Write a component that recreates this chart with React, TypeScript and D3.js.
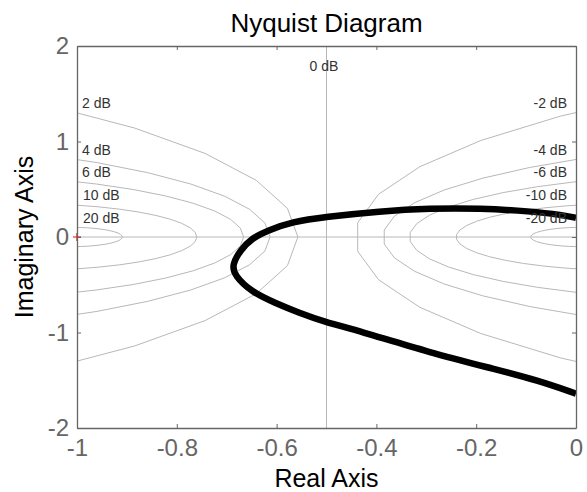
import React, { useEffect, useRef } from 'react';
import * as d3 from 'd3';

// Nyquist curve (real, imaginary)
const nyqRe = [0, -0.026, -0.092, -0.192, -0.293, -0.393, -0.503, -0.569, -0.617, -0.649, -0.673, -0.689, -0.685, -0.649, -0.603, -0.557, -0.503, -0.437, -0.293, -0.158, -0.078, 0];
const nyqIm = [0.2, 0.23, 0.27, 0.3, 0.3, 0.27, 0.21, 0.16, 0.07, -0.01, -0.14, -0.29, -0.4, -0.58, -0.69, -0.79, -0.89, -0.98, -1.21, -1.39, -1.5, -1.64];

// M-circle levels (closed loop gain, dB)
const posLevels = [2, 4, 6, 10, 20];
const negLevels = [-2, -4, -6, -10, -20];
// label heights on the imaginary axis, same order as the levels
const labelIm = [1.35, 0.86, 0.63, 0.39, 0.15];

const xTicks = [-1, -0.8, -0.6, -0.4, -0.2, 0];
const yTicks = [-2, -1, 0, 1, 2];

const W = 587;
const H = 492;
const FONT = 'Liberation Sans, Arial, sans-serif';

function App() {
    const ref = useRef<SVGSVGElement>(null);

    useEffect(() => {
        const margin = { top: 46, right: 11, bottom: 64, left: 77 },
            width = W - margin.left - margin.right,
            height = H - margin.top - margin.bottom;

        const root = d3.select(ref.current);
        root.selectAll('*').remove();

        const svg = root.append('g')
            .attr('transform', 'translate(' + margin.left + ',' + margin.top + ')');

        const x = d3.scaleLinear().domain([-1, 0]).range([0, width]);
        const y = d3.scaleLinear().domain([-2, 2]).range([height, 0]);

        svg.append('clipPath').attr('id', 'plotclip')
            .append('rect').attr('width', width).attr('height', height);

        const plot = svg.append('g').attr('clip-path', 'url(#plotclip)');
        const gridColor = '#b8b8b8';

        // M-circles: centre -M^2/(M^2-1), radius |M/(M^2-1)|
        const circle = (db: number) => {
            const m = Math.pow(10, db / 20);
            const c = -m * m / (m * m - 1);
            const r = Math.abs(m / (m * m - 1));
            return d3.range(0, 361, 8).map(a => {
                const t = a * Math.PI / 180;
                return [c + r * Math.cos(t), r * Math.sin(t)];
            });
        };
        const line = d3.line<number[]>().x(d => x(d[0])).y(d => y(d[1]));

        plot.selectAll('path.mcirc')
            .data(posLevels.concat(negLevels))
            .enter()
            .append('path')
            .attr('class', 'mcirc')
            .attr('d', d => line(circle(d)))
            .attr('fill', 'none')
            .attr('stroke', gridColor)
            .attr('stroke-width', 1);

        // 0 dB line and real axis
        plot.append('line')
            .attr('x1', x(-0.5)).attr('x2', x(-0.5))
            .attr('y1', 0).attr('y2', height)
            .attr('stroke', gridColor);
        plot.append('line')
            .attr('x1', 0).attr('x2', width)
            .attr('y1', y(0)).attr('y2', y(0))
            .attr('stroke', gridColor);

        // nyquist curve
        const pts = nyqRe.map((re, i) => [re, nyqIm[i]]);
        plot.append('path')
            .datum(pts)
            .attr('fill', 'none')
            .attr('stroke', '#000')
            .attr('stroke-width', 6.5)
            .attr('stroke-linejoin', 'round')
            .attr('d', d3.line<number[]>()
                .x(d => x(d[0]))
                .y(d => y(d[1]))
                .curve(d3.curveBasis));

        // dB labels
        const label = (tx: number, ty: number, s: string, anchor: string) => {
            svg.append('text')
                .attr('x', tx)
                .attr('y', ty)
                .attr('text-anchor', anchor)
                .attr('font-family', FONT)
                .attr('font-size', '14px')
                .attr('fill', '#333')
                .text(s);
        };
        posLevels.forEach((db, i) => label(x(-1) + (db >= 10 ? 6 : 5), y(labelIm[i]), db + ' dB', 'start'));
        negLevels.forEach((db, i) => label(x(0) - 9, y(labelIm[i]), db + ' dB', 'end'));
        label(x(-0.5) - 17, y(1.74), '0 dB', 'start');

        // critical point
        svg.append('path')
            .attr('d', 'M' + (x(-1) - 4) + ',' + y(0) + 'h8M' + x(-1) + ',' + (y(0) - 4) + 'v8')
            .attr('stroke', '#ff0000')
            .attr('stroke-width', 1.2);

        // axes
        const axisColor = '#666';
        const fmt = (d: any) => String(d);
        const styleAxis = (g: any) => {
            g.select('.domain').attr('stroke', axisColor).attr('stroke-width', 1.3);
            g.selectAll('.tick line').attr('stroke', axisColor);
            g.selectAll('.tick text')
                .attr('fill', axisColor)
                .style('font-family', FONT)
                .style('font-size', '24px');
        };
        svg.append('g')
            .attr('transform', 'translate(0,' + height + ')')
            .call(d3.axisBottom(x).tickValues(xTicks).tickFormat(fmt).tickSize(-4).tickSizeOuter(0).tickPadding(11))
            .call(styleAxis);
        svg.append('g')
            .call(d3.axisLeft(y).tickValues(yTicks).tickFormat(fmt).tickSize(-4).tickSizeOuter(0).tickPadding(8))
            .call(styleAxis);
        svg.append('g')
            .call(d3.axisTop(x).tickValues(xTicks).tickFormat(() => '').tickSize(-4).tickSizeOuter(0))
            .call(styleAxis);
        svg.append('g')
            .attr('transform', 'translate(' + width + ',0)')
            .call(d3.axisRight(y).tickValues(yTicks).tickFormat(() => '').tickSize(-4).tickSizeOuter(0))
            .call(styleAxis);

        // title and axis labels
        svg.append('text')
            .attr('x', width / 2)
            .attr('y', -14)
            .attr('text-anchor', 'middle')
            .style('font-family', FONT)
            .style('font-size', '26px')
            .text('Nyquist Diagram');
        svg.append('text')
            .attr('x', width / 2)
            .attr('y', height + 59)
            .attr('text-anchor', 'middle')
            .style('font-family', FONT)
            .style('font-size', '25px')
            .text('Real Axis');
        svg.append('text')
            .attr('transform', 'rotate(-90)')
            .attr('x', -height / 2)
            .attr('y', -margin.left + 33)
            .attr('text-anchor', 'middle')
            .style('font-family', FONT)
            .style('font-size', '25px')
            .text('Imaginary Axis');
    }, []);

    return (
        <svg ref={ref} width={W} height={H}
            style={{ position: 'absolute', left: 0, top: 0, background: '#fff' }} />
    );
}

export default App;
